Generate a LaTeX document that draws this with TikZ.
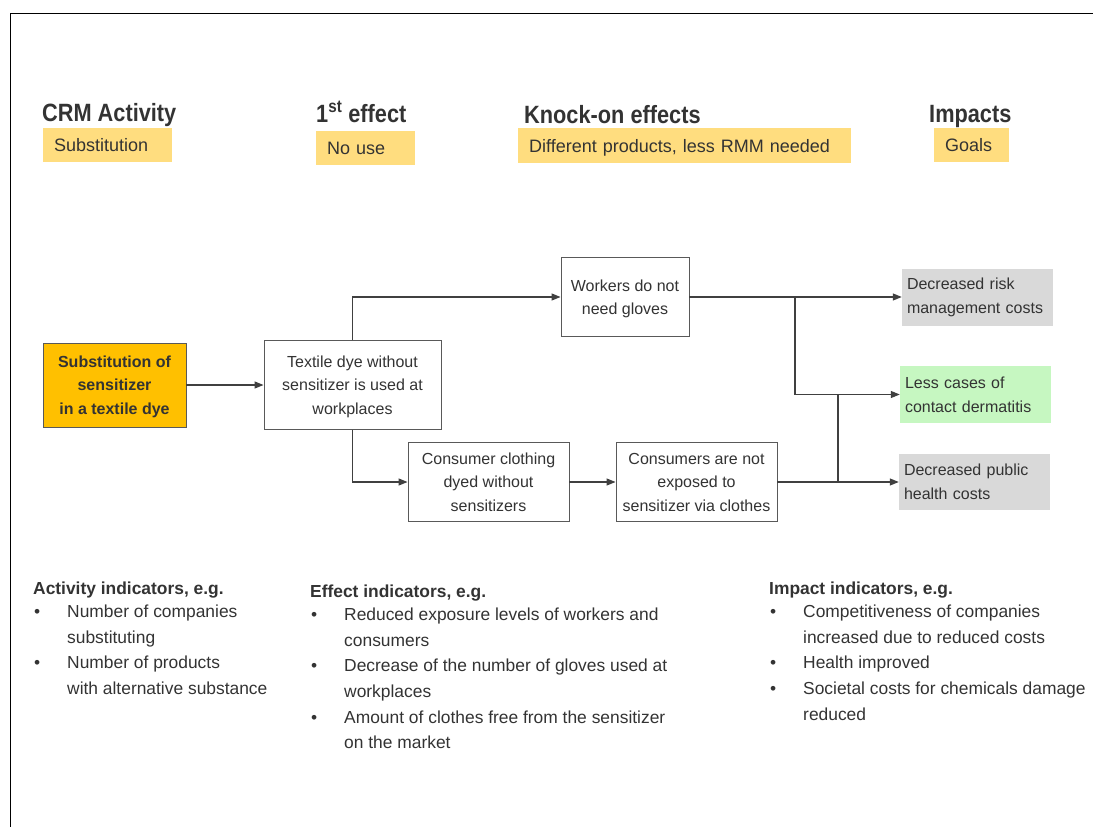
\documentclass[tikz,border=0pt]{standalone}
\usepackage{fontspec}
\setmainfont{Liberation Sans}
\newfontfamily\headfont[FakeStretch=0.87]{Liberation Sans}
\usepackage{xcolor}
\usetikzlibrary{arrows.meta}
\definecolor{txtgray}{HTML}{333333}
\definecolor{linegray}{HTML}{404040}
\definecolor{boxgray}{HTML}{595959}
\definecolor{tagyellow}{HTML}{FFDD7F}
\definecolor{dyeorange}{HTML}{FFC000}
\definecolor{costgray}{HTML}{D9D9D9}
\definecolor{healthgreen}{HTML}{C6F7C1}

\begin{document}
\begin{tikzpicture}[x=1pt,y=-1pt,every node/.style={text=txtgray},
	heading/.style={anchor=base west, inner sep=0pt, font=\headfont\bfseries\fontsize{25}{30}\selectfont},
	tag/.style={anchor=north west, fill=tagyellow, inner xsep=11pt, inner ysep=0pt, minimum height=34pt, text depth=0pt, align=left, font=\fontsize{18}{21}\selectfont},
	flowbox/.style={draw=boxgray, line width=0.9pt, fill=white, align=center, inner sep=0pt, text depth=0pt, font=\fontsize{16}{23.5}\selectfont},
	goalbox/.style={inner xsep=5pt, inner ysep=0pt, align=left, text width=141pt, minimum height=57pt, font=\fontsize{16}{24}\selectfont},
	linkline/.style={draw=linegray, line width=1.2pt},
	link/.style={linkline, -{Triangle[length=9pt,width=7pt]}},
	indicators/.style={anchor=base west, inner sep=0pt, font=\fontsize{17.4}{25.6}\selectfont}]
	
	\useasboundingbox (0,0) rectangle (1093,827);
	\draw[line width=1pt] (10,827) -- (10,13) -- (1093,13);
	
	% column headings
	\node[heading] (crm) at (42,121) {CRM Activity};
	\node[heading] (first) at (316,122) {1\textsuperscript{st} effect};
	\node[heading] (knock) at (524,123) {Knock-on effects};
	\node[heading] (impacts) at (929,122) {Impacts};
	
	\node[tag, text width=107pt] (substtag) at (43,128) {Substitution};
	\node[tag, text width=77pt] (nousetag) at (316,131) {No use};
	\node[tag, text width=311pt, minimum height=35pt] (rmmtag) at (518,128) {Different products, less RMM needed};
	\node[tag, text width=53pt] (goalstag) at (934,128) {Goals};
	
	% chain
	\node[flowbox, fill=dyeorange, font=\bfseries\fontsize{16}{23.5}\selectfont, minimum width=143pt, minimum height=84pt] (subst) at (114.5,385) {Substitution of\\sensitizer\\in a textile dye};
	\node[flowbox, minimum width=177pt, minimum height=89pt] (dyeuse) at (352.5,385) {Textile dye without\\sensitizer is used at\\workplaces};
	\node[flowbox, minimum width=128pt, minimum height=79pt] (workers) at (625,297) {Workers do not\\need gloves};
	\node[flowbox, minimum width=161pt, minimum height=79pt] (clothing) at (488.5,482) {Consumer clothing\\dyed without\\sensitizers};
	\node[flowbox, minimum width=161pt, minimum height=79pt] (consumers) at (696.5,482) {Consumers are not\\exposed to\\sensitizer via clothes};
	
	\node[goalbox, fill=costgray] (riskcost) at (977.5,297) {Decreased risk\\management costs};
	\node[goalbox, fill=healthgreen] (dermatitis) at (975.5,394.5) {Less cases of\\contact dermatitis};
	\node[goalbox, fill=costgray, minimum height=56pt] (healthcost) at (974.5,482) {Decreased public\\health costs};
	
	\coordinate (riskfork) at (795,297);
	\coordinate (healthfork) at (838,482);
	
	\draw[link] (subst) -- (dyeuse);
	\draw[link] (dyeuse.north) |- (workers);
	\draw[link] (dyeuse.south) |- (clothing);
	\draw[link] (clothing) -- (consumers);
	\draw[link] (workers) -- (riskcost);
	\draw[link] (consumers) -- (healthcost);
	\draw[link] (riskfork) |- (dermatitis);
	\draw[linkline] (healthfork) -- (healthfork |- dermatitis);
	
	% indicators
	\node[indicators] (activity) at (33,594) {\begin{tabular}[t]{@{}p{34pt}@{}l@{}}
		\multicolumn{2}{@{}l@{}}{\bfseries Activity indicators, e.g.}\\[-2pt]
		\hspace{1pt}\textbullet & Number of companies\\
		& substituting\\
		\hspace{1pt}\textbullet & Number of products\\
		& with alternative substance
	\end{tabular}};
	\node[indicators] (effect) at (310,597) {\begin{tabular}[t]{@{}p{34pt}@{}l@{}}
		\multicolumn{2}{@{}l@{}}{\bfseries Effect indicators, e.g.}\\[-2pt]
		\hspace{1pt}\textbullet & Reduced exposure levels of workers and\\
		& consumers\\
		\hspace{1pt}\textbullet & Decrease of the number of gloves used at\\
		& workplaces\\
		\hspace{1pt}\textbullet & Amount of clothes free from the sensitizer\\
		& on the market
	\end{tabular}};
	\node[indicators] (impact) at (769,594) {\begin{tabular}[t]{@{}p{34pt}@{}l@{}}
		\multicolumn{2}{@{}l@{}}{\bfseries Impact indicators, e.g.}\\[-2pt]
		\hspace{1pt}\textbullet & Competitiveness of companies\\
		& increased due to reduced costs\\
		\hspace{1pt}\textbullet & Health improved\\
		\hspace{1pt}\textbullet & Societal costs for chemicals damage\\
		& reduced
	\end{tabular}};
	
\end{tikzpicture}
\end{document}
